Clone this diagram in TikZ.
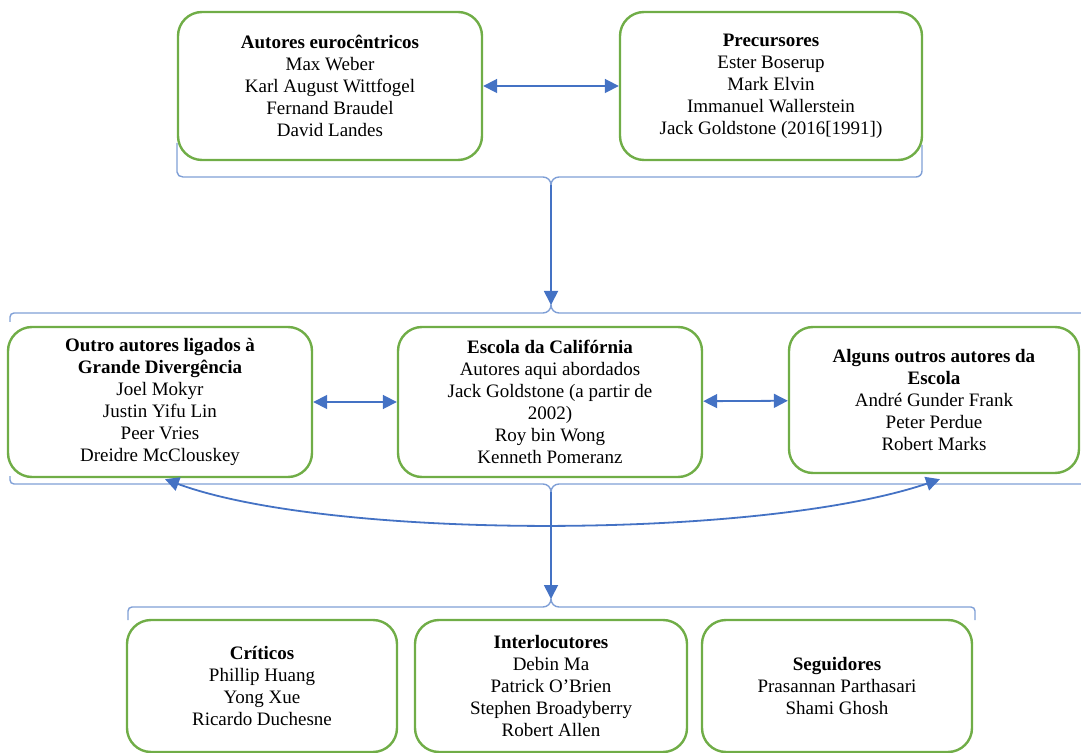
\documentclass[tikz,border=0pt]{standalone}
\usepackage{fontspec}
\setmainfont{Liberation Serif}
\usetikzlibrary{arrows.meta}
\definecolor{verde}{HTML}{70AD47}
\definecolor{azul}{HTML}{4472C4}
\definecolor{azulclaro}{HTML}{7F9FD6}
\tikzset{
  caixa/.style={draw=verde, line width=1.2pt, rounded corners=12pt, align=center,
    font=\fontsize{9.5}{11}\selectfont, inner sep=2pt},
  seta/.style={azul, line width=0.9pt, -{Triangle[length=7pt,width=7pt]}},
  setadupla/.style={azul, line width=0.9pt, {Triangle[length=7pt,width=7pt]}-{Triangle[length=7pt,width=7pt]}},
  chave/.style={azulclaro, line width=0.7pt},
}
\begin{document}
\begin{tikzpicture}[x=0.5pt, y=-0.5pt]
    \useasboundingbox (0,0) rectangle (1081,753);

    % Primeira linha
    \node[caixa, minimum width=152pt, minimum height=74pt] (euro) at (330,86)
        {\textbf{Autores eurocêntricos}\\Max Weber\\Karl August Wittfogel\\Fernand Braudel\\David Landes};
    \node[caixa, minimum width=151pt, minimum height=74pt] (prec) at (771,86)
        {\textbf{Precursores}\\Ester Boserup\\Mark Elvin\\Immanuel Wallerstein\\Jack Goldstone (2016[1991])};
    \draw[setadupla] (euro) -- (prec);

    % Chave superior
    \coordinate (chaveA) at (551,185);
    \draw[chave] (177,143) -- (177,172) to[out=-90,in=180] (183,177) -- (543,177)
        to[out=0,in=90] (chaveA) to[out=90,in=180] (559,177) -- (916,177)
        to[out=0,in=-90] (922,171) -- (922,145);

    % Segunda linha
    \node[caixa, minimum width=152pt, minimum height=75pt] (outros) at (160,402)
        {\textbf{Outro autores ligados à}\\\textbf{Grande Divergência}\\Joel Mokyr\\Justin Yifu Lin\\Peer Vries\\Dreidre McClouskey};
    \node[caixa, minimum width=152pt, minimum height=75pt] (escola) at (550,402)
        {\textbf{Escola da Califórnia}\\Autores aqui abordados\\Jack Goldstone (a partir de\\2002)\\Roy bin Wong\\Kenneth Pomeranz};
    \node[caixa, minimum width=145pt, minimum height=73pt] (alguns) at (934,400)
        {\textbf{Alguns outros autores da}\\\textbf{Escola}\\André Gunder Frank\\Peter Perdue\\Robert Marks};
    \draw[setadupla] (outros) -- (escola);
    \draw[setadupla] (escola) -- (alguns);

    % Colchetes da segunda linha
    \coordinate (chaveB) at (551,305);
    \coordinate (chaveC) at (551,492);
    \draw[chave] (10,322) -- (10,317) to[out=90,in=180] (14,313) -- (543,313)
        to[out=0,in=-90] (chaveB) to[out=-90,in=180] (559,313) -- (1085,313);
    \draw[chave] (10,476) -- (10,480) to[out=-90,in=180] (14,484) -- (543,484)
        to[out=0,in=90] (chaveC) to[out=90,in=180] (559,484) -- (1085,484);
    \draw[seta] (chaveA) -- (chaveB);

    % Arco entre as pontas
    \draw[setadupla] ([xshift=2.5pt,yshift=-0.5pt]outros.south)
        .. controls (330,540) and (760,540) .. ([xshift=3pt,yshift=-2.5pt]alguns.south);

    % Terceira linha
    \node[caixa, minimum width=135pt, minimum height=66pt] (criticos) at (262,686)
        {\textbf{Críticos}\\Phillip Huang\\Yong Xue\\Ricardo Duchesne};
    \node[caixa, minimum width=136pt, minimum height=66pt] (inter) at (551,686)
        {\textbf{Interlocutores}\\Debin Ma\\Patrick O’Brien\\Stephen Broadyberry\\Robert Allen};
    \node[caixa, minimum width=135pt, minimum height=66pt] (seg) at (837,686)
        {\textbf{Seguidores}\\Prasannan Parthasari\\Shami Ghosh};

    % Colchete inferior
    \coordinate (chaveD) at (551,599);
    \draw[chave] (128,620) -- (128,611) to[out=90,in=180] (132,607) -- (543,607)
        to[out=0,in=-90] (chaveD) to[out=-90,in=180] (559,607) -- (971,607)
        to[out=0,in=90] (975,611) -- (975,620);
    \draw[seta] (chaveC) -- (chaveD);
\end{tikzpicture}
\end{document}
